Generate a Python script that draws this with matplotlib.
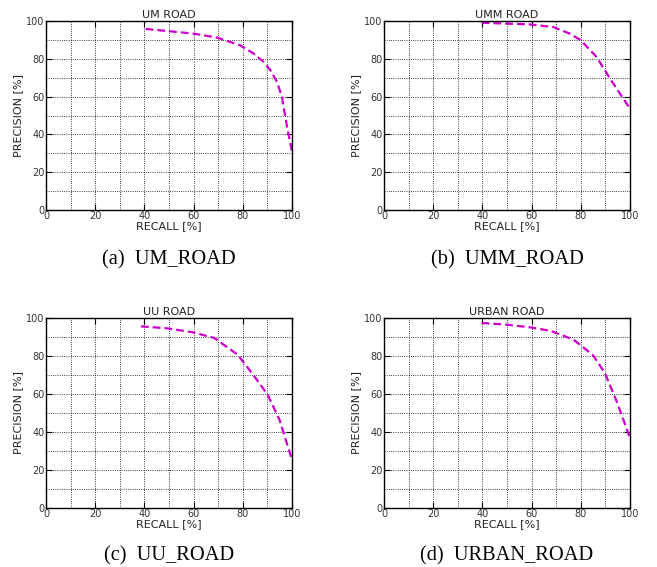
import numpy as np
import matplotlib
matplotlib.use("Agg")
import matplotlib.pyplot as plt

# precision / recall curves
um_recall = [40.5, 49.3, 60.1, 69.6, 79.0, 84.5, 88.5, 91.2, 93.9, 95.9, 98.0, 100.0]
um_precision = [95.8, 94.7, 93.3, 91.2, 87.1, 82.7, 78.3, 74.0, 67.8, 59.9, 44.0, 30.8]

umm_recall = [39.7, 49.9, 59.3, 68.8, 75.6, 80.0, 86.4, 91.9, 95.9, 100.0]
umm_precision = [99.1, 98.6, 98.2, 96.8, 93.3, 89.8, 81.0, 69.5, 61.6, 53.7]

uu_recall = [38.6, 49.0, 59.6, 68.4, 77.9, 84.7, 90.1, 94.9, 100.0]
uu_precision = [95.6, 94.6, 92.5, 89.5, 80.7, 69.3, 59.6, 46.5, 25.4]

urban_recall = [39.7, 49.9, 59.3, 67.5, 72.9, 77.0, 81.0, 85.1, 89.8, 94.6, 100.0]
urban_precision = [97.4, 96.5, 95.1, 93.3, 90.7, 88.6, 84.6, 80.2, 71.0, 56.1, 36.8]

titles = ["UM ROAD", "UMM ROAD", "UU ROAD", "URBAN ROAD"]
captions = ["(a)  UM_ROAD", "(b)  UMM_ROAD", "(c)  UU_ROAD", "(d)  URBAN_ROAD"]
recalls = [um_recall, umm_recall, uu_recall, urban_recall]
precisions = [um_precision, umm_precision, uu_precision, urban_precision]

W, H = 657, 567
fig = plt.figure(figsize=(W / 100, H / 100), dpi=100)

# axes boxes in pixels: left, top, right, bottom
boxes = [(46, 21, 292, 210), (384, 21, 630, 210),
         (46, 318, 292, 508), (384, 318, 630, 508)]
caption_y = [260, 556]

for i in range(4):
    l, t, r, b = boxes[i]
    ax = fig.add_axes([l / W, 1 - b / H, (r - l) / W, (b - t) / H])
    ax.plot(recalls[i], precisions[i], color="#cc00cc", ls="--", lw=1.6, dashes=(3.5, 1.8))
    ax.set_xlim(0, 100)
    ax.set_ylim(0, 100)
    ax.set_xticks(range(0, 101, 20))
    ax.set_yticks(range(0, 101, 20))
    ax.set_xticks(range(0, 101, 10), minor=True)
    ax.set_yticks(range(0, 101, 10), minor=True)
    ax.grid(which="both", color="black", ls=":", lw=0.6)
    ax.tick_params(which="both", direction="in", top=True, right=True, labelsize=7, pad=1,
                   labelcolor="#333333")
    ax.tick_params(which="minor", length=0)
    ax.tick_params(which="major", length=4)
    for s in ax.spines.values():
        s.set_linewidth(1.0)
    ax.set_title(titles[i], fontsize=8, pad=2, color="#222222")
    ax.set_xlabel("RECALL [%]", fontsize=8, labelpad=0, color="#222222")
    ax.set_ylabel("PRECISION [%]", fontsize=8, labelpad=2, color="#222222")
    fig.text((l + r) / 2 / W, 1 - caption_y[i // 2] / H, captions[i],
             family="Liberation Serif", fontsize=14.7, ha="center", va="center")

fig.savefig("out.png", dpi=100)
